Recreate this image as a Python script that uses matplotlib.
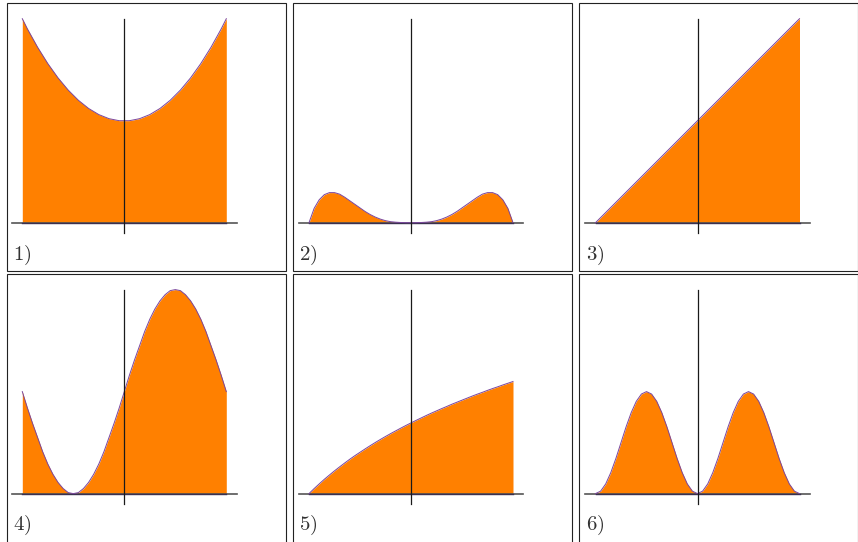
import matplotlib
matplotlib.use("Agg")
import matplotlib.pyplot as plt
from matplotlib.patches import Rectangle

# sample positions shared by all six curves
xs = [-1.0, -0.95, -0.9, -0.85, -0.8, -0.75, -0.7, -0.65, -0.6, -0.55,
      -0.5, -0.45, -0.4, -0.35, -0.3, -0.25, -0.2, -0.15, -0.1, -0.05,
      0.0, 0.05, 0.1, 0.15, 0.2, 0.25, 0.3, 0.35, 0.4, 0.45,
      0.5, 0.55, 0.6, 0.65, 0.7, 0.75, 0.8, 0.85, 0.9, 0.95, 1.0]

y1 = [2.00, 1.90, 1.81, 1.72, 1.64, 1.56, 1.49, 1.42, 1.36, 1.30,
      1.25, 1.20, 1.16, 1.12, 1.09, 1.06, 1.04, 1.02, 1.01, 1.00,
      1.00, 1.00, 1.01, 1.02, 1.04, 1.06, 1.09, 1.12, 1.16, 1.20,
      1.25, 1.30, 1.36, 1.42, 1.49, 1.56, 1.64, 1.72, 1.81, 1.90, 2.00]

y2 = [0.0, 0.14, 0.225, 0.275, 0.295, 0.295, 0.28, 0.25, 0.215, 0.18,
      0.145, 0.11, 0.08, 0.055, 0.035, 0.02, 0.01, 0.005, 0.002, 0.0,
      0.0, 0.0, 0.002, 0.005, 0.01, 0.02, 0.035, 0.055, 0.08, 0.11,
      0.145, 0.18, 0.215, 0.25, 0.28, 0.295, 0.295, 0.275, 0.225, 0.14, 0.0]

y3 = [0.0, 0.05, 0.1, 0.15, 0.2, 0.25, 0.3, 0.35, 0.4, 0.45,
      0.5, 0.55, 0.6, 0.65, 0.7, 0.75, 0.8, 0.85, 0.9, 0.95,
      1.0, 1.05, 1.1, 1.15, 1.2, 1.25, 1.3, 1.35, 1.4, 1.45,
      1.5, 1.55, 1.6, 1.65, 1.7, 1.75, 1.8, 1.85, 1.9, 1.95, 2.0]

y4 = [1.00, 0.84, 0.69, 0.55, 0.41, 0.29, 0.19, 0.11, 0.05, 0.01,
      0.00, 0.01, 0.05, 0.11, 0.19, 0.29, 0.41, 0.55, 0.69, 0.84,
      1.00, 1.16, 1.31, 1.45, 1.59, 1.71, 1.81, 1.89, 1.95, 1.99,
      2.00, 1.99, 1.95, 1.89, 1.81, 1.71, 1.59, 1.45, 1.31, 1.16, 1.00]

y5 = [0.000, 0.049, 0.095, 0.140, 0.182, 0.223, 0.262, 0.300, 0.337, 0.372,
      0.405, 0.438, 0.470, 0.501, 0.531, 0.560, 0.588, 0.615, 0.642, 0.668,
      0.693, 0.718, 0.742, 0.766, 0.789, 0.811, 0.833, 0.854, 0.876, 0.896,
      0.916, 0.936, 0.956, 0.975, 0.993, 1.012, 1.030, 1.047, 1.065, 1.082, 1.099]

y6 = [0.000, 0.024, 0.095, 0.206, 0.345, 0.500, 0.655, 0.794, 0.905, 0.976,
      1.000, 0.976, 0.905, 0.794, 0.655, 0.500, 0.345, 0.206, 0.095, 0.024,
      0.000, 0.024, 0.095, 0.206, 0.345, 0.500, 0.655, 0.794, 0.905, 0.976,
      1.000, 0.976, 0.905, 0.794, 0.655, 0.500, 0.345, 0.206, 0.095, 0.024, 0.000]

curves = [y1, y2, y3, y4, y5, y6]
labels = ["1)", "2)", "3)", "4)", "5)", "6)"]

plt.rcParams["mathtext.fontset"] = "cm"

W, H = 858, 542
fig = plt.figure(figsize=(W / 100, H / 100), dpi=100)

# cell geometry in pixels (top-left origin)
col_left = [6.7, 292.7, 579.3]
row_top = [3.3, 273.5]
cell_w = 279.0
cell_h = [267.7, 275.0]
centers = [124.3, 411.0, 697.5]
zero_y = [222.7, 493.6]
scale = 102.0  # pixels per data unit

XLIM = (-1.2, 1.2)
YLIM = (-0.2, 2.1)

FILL = "#ff8000"
EDGE = "#7a469e"

for i, ys in enumerate(curves):
    r, c = divmod(i, 3)

    # cell border
    left, top = col_left[c], row_top[r]
    fig.add_artist(Rectangle((left / W, 1 - (top + cell_h[r]) / H),
                             cell_w / W, cell_h[r] / H,
                             transform=fig.transFigure, fill=False,
                             ec="#222222", lw=0.8))

    # axes box so that one unit = `scale` pixels
    ax_l = centers[c] + XLIM[0] * scale
    ax_w = (XLIM[1] - XLIM[0]) * scale
    ax_top = zero_y[r] - YLIM[1] * scale
    ax_h = (YLIM[1] - YLIM[0]) * scale
    ax = fig.add_axes([ax_l / W, 1 - (ax_top + ax_h) / H, ax_w / W, ax_h / H])
    ax.set_xlim(*XLIM)
    ax.set_ylim(*YLIM)
    ax.axis("off")

    ax.fill_between(xs, 0, ys, color=FILL, lw=0, zorder=1)
    ax.plot([-1.1, 1.1], [0, 0], color="#555555", lw=1.2, zorder=2)
    ax.plot([-1, 1], [0, 0], color="#3a3050", lw=1.0, zorder=3)
    ax.plot(xs, ys, color=EDGE, lw=0.7, zorder=3)
    ax.plot([0, 0], [-0.1, 2.0], color="#1a1a1a", lw=0.9, zorder=4)

    # panel number
    fig.text((left + 6.3) / W, 1 - (top + 256.6) / H, "$" + labels[i] + "$",
             fontsize=15, color="#333333", ha="left", va="baseline")

fig.savefig("out.png", dpi=100)
